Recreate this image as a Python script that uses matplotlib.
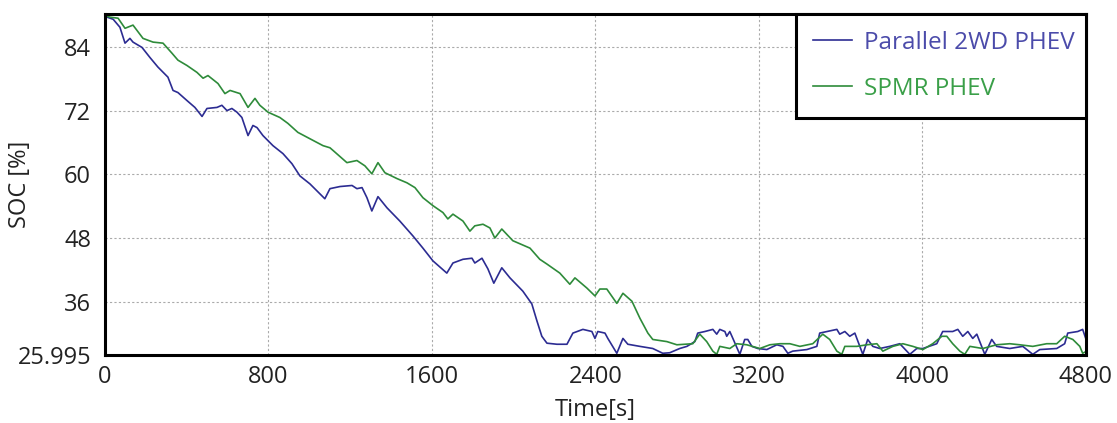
import matplotlib
matplotlib.use("Agg")
import matplotlib.pyplot as plt

# Parallel 2WD PHEV (blue)
t_par = [10, 40, 73, 98, 122, 137, 181, 220, 259, 308, 333, 357, 401, 440, 475,
         499, 548, 572, 597, 621, 646, 670, 700, 724, 744, 773, 822, 871, 915, 954,
         1003, 1076, 1101, 1150, 1209, 1233, 1258, 1282, 1306, 1336, 1380, 1443,
         1507, 1556, 1605, 1673, 1703, 1752, 1796, 1810, 1845, 1874, 1903, 1942,
         1982, 2045, 2089, 2114, 2138, 2163, 2212, 2261, 2290, 2339, 2383, 2398,
         2412, 2447, 2461, 2505, 2535, 2559, 2618, 2681, 2730, 2764, 2813, 2848,
         2887, 2901, 2936, 2975, 2994, 3009, 3034, 3043, 3058, 3073, 3107, 3131,
         3146, 3166, 3195, 3239, 3288, 3318, 3342, 3366, 3435, 3484, 3498, 3533,
         3582, 3596, 3621, 3645, 3670, 3709, 3733, 3758, 3792, 3841, 3890, 3939,
         3973, 4003, 4071, 4100, 4149, 4174, 4198, 4223, 4247, 4267, 4306, 4340,
         4364, 4428, 4492, 4541, 4575, 4658, 4697, 4712, 4761, 4785, 4800]
soc_par = [89.6, 89.2, 87.7, 84.7, 85.6, 84.9, 83.9, 82.0, 80.2, 78.3, 75.8, 75.4,
           73.9, 72.6, 70.9, 72.4, 72.6, 73.0, 72.0, 72.4, 71.7, 70.7, 67.3, 69.2,
           68.8, 67.3, 65.4, 63.9, 62.0, 59.7, 58.2, 55.4, 57.3, 57.7, 57.9, 57.3,
           57.5, 55.6, 53.1, 55.8, 53.7, 51.2, 48.4, 46.1, 43.7, 41.4, 43.3, 44.0,
           44.2, 43.3, 44.2, 42.2, 39.5, 42.4, 40.5, 38.0, 35.6, 32.4, 29.5, 28.2,
           28.0, 28.0, 30.1, 30.8, 30.4, 29.1, 30.4, 30.1, 29.1, 26.3, 29.1, 28.0,
           27.6, 27.2, 26.3, 26.4, 27.2, 27.6, 28.5, 30.1, 30.4, 30.8, 29.9, 30.8,
           30.4, 29.5, 30.4, 29.1, 26.1, 28.9, 28.9, 27.6, 27.2, 27.0, 27.9, 27.6,
           26.3, 26.7, 27.0, 27.6, 30.1, 30.4, 30.8, 29.9, 30.4, 29.5, 30.1, 26.1,
           28.9, 27.6, 27.2, 27.6, 28.1, 26.1, 27.2, 27.2, 28.1, 30.4, 30.4, 30.8,
           29.5, 30.4, 29.1, 29.9, 26.1, 28.9, 27.6, 27.2, 27.6, 26.1, 27.0, 27.2,
           28.1, 30.1, 30.4, 30.8, 29.1]

# SPMR PHEV (green)
t_spmr = [10, 24, 64, 98, 137, 186, 235, 284, 328, 357, 401, 450, 480, 504, 553,
          587, 612, 661, 700, 734, 758, 798, 856, 895, 944, 1003, 1067, 1101, 1116,
          1184, 1233, 1272, 1306, 1336, 1370, 1429, 1478, 1517, 1556, 1605, 1654,
          1678, 1703, 1752, 1786, 1810, 1850, 1884, 1908, 1942, 1996, 2080, 2128,
          2163, 2226, 2275, 2300, 2358, 2398, 2422, 2456, 2505, 2535, 2579, 2618,
          2657, 2681, 2750, 2799, 2877, 2911, 2945, 2975, 2994, 3009, 3058, 3092,
          3141, 3205, 3254, 3303, 3352, 3401, 3464, 3513, 3547, 3582, 3606, 3621,
          3680, 3729, 3778, 3807, 3856, 3905, 3954, 4003, 4051, 4096, 4120, 4149,
          4184, 4208, 4233, 4296, 4364, 4428, 4477, 4541, 4609, 4658, 4697, 4737,
          4771, 4785, 4800]
soc_spmr = [89.8, 89.6, 89.4, 87.5, 88.1, 85.6, 84.9, 84.7, 82.8, 81.5, 80.5,
            79.2, 78.1, 78.6, 77.1, 75.2, 75.8, 75.2, 72.6, 74.3, 73.0, 71.7, 70.7,
            69.6, 67.9, 66.7, 65.4, 65.0, 64.5, 62.2, 62.6, 61.6, 60.1, 62.2, 60.3,
            59.2, 58.4, 57.5, 55.6, 54.1, 52.8, 51.6, 52.5, 51.2, 49.3, 50.3, 50.6,
            49.9, 48.0, 49.7, 47.5, 46.1, 44.0, 43.1, 41.4, 39.3, 40.5, 38.6, 37.1,
            38.4, 38.4, 35.7, 37.6, 36.1, 32.9, 30.1, 28.9, 28.5, 27.9, 28.1, 29.9,
            28.5, 26.7, 26.1, 27.6, 27.2, 28.1, 27.9, 27.2, 27.9, 28.1, 28.1, 27.6,
            28.1, 29.9, 28.9, 26.7, 26.1, 27.6, 27.6, 27.9, 28.1, 26.7, 27.6, 28.1,
            27.6, 27.0, 28.1, 29.5, 29.5, 28.1, 26.7, 26.1, 27.6, 27.2, 27.9, 28.1,
            27.9, 27.6, 28.1, 28.1, 29.5, 28.9, 27.6, 26.3, 26.6]

x_ticks = [0, 800, 1600, 2400, 3200, 4000, 4800]
y_ticks = [25.995, 36, 48, 60, 72, 84]
y_tick_labels = ["25.995", "36", "48", "60", "72", "84"]

plt.rcParams['font.family'] = ['Open Sans', 'DejaVu Sans']

fig = plt.figure(figsize=(11.17, 4.23), dpi=100)
ax = fig.add_axes([0.094, 0.161, 0.878, 0.806])

ax.plot(t_par, soc_par, color='#2c2c92', lw=1.2, label='Parallel 2WD PHEV')
ax.plot(t_spmr, soc_spmr, color='#2e8b3a', lw=1.2, label='SPMR PHEV')

ax.set_xlim(0, 4800)
ax.set_ylim(25.995, 90.2)
ax.set_xticks(x_ticks)
ax.set_yticks(y_ticks)
ax.set_yticklabels(y_tick_labels)
ax.tick_params(length=0, labelsize=17, colors='#222222')
ax.tick_params(axis='x', pad=7)
ax.tick_params(axis='y', pad=10)

ax.grid(True, color='#aaaaaa', linestyle=(0, (2, 2)), lw=0.8)
for s in ax.spines.values():
    s.set_linewidth(2.2)
    s.set_color('black')

ax.set_xlabel('Time[s]', fontsize=17, color='#222222')
ax.set_ylabel('SOC [%]', fontsize=17, color='#222222')
ax.xaxis.set_label_coords(0.5, -0.125)
ax.yaxis.set_label_coords(-0.074, 0.5)

# legend box sits in the top right corner
leg = ax.legend(loc='upper left', bbox_to_anchor=(0.705, 0.0, 0.295, 1.0),
                mode='expand', fontsize=17.5, handlelength=1.6, handletextpad=0.47,
                labelspacing=0.9, borderpad=0.7, borderaxespad=0,
                fancybox=False, framealpha=1, edgecolor='black',
                labelcolor=['#4b4baa', '#3a9f48'])
leg.get_frame().set_linewidth(2.2)

fig.savefig('out.png', dpi=100)
